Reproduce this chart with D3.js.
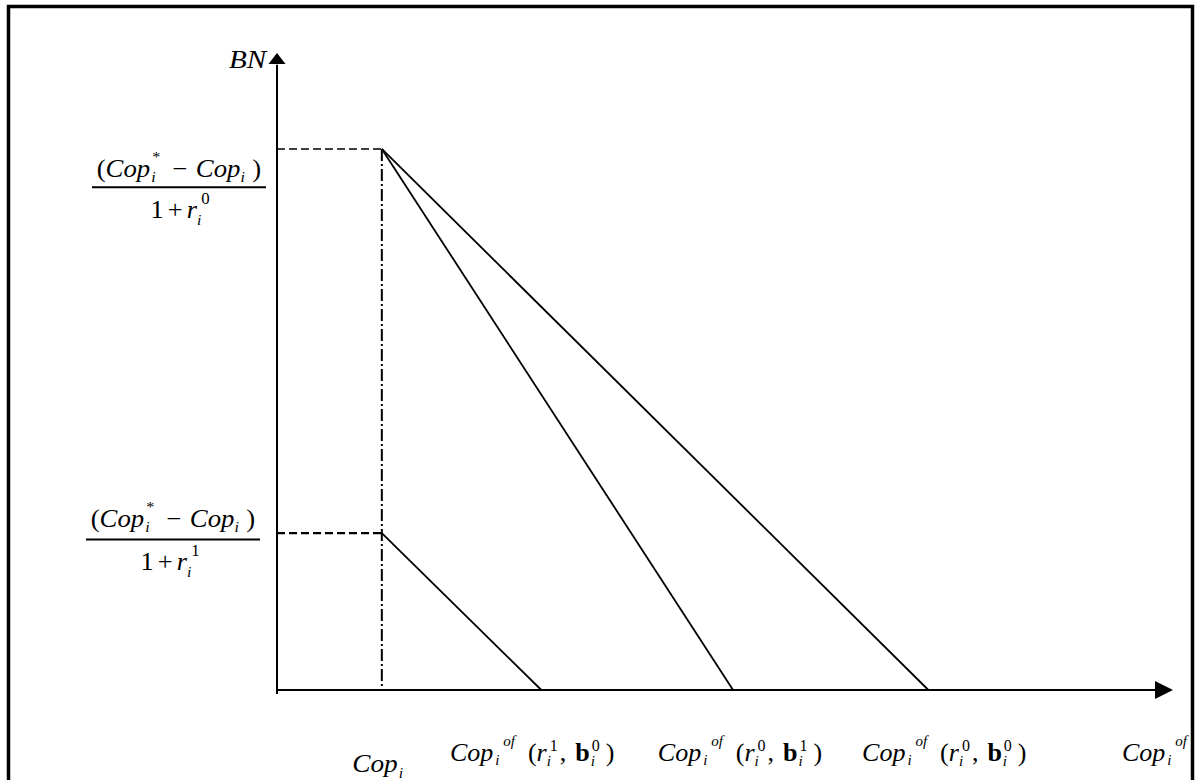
<!DOCTYPE html>
<html>
<head>
<meta charset="utf-8">
<script src="https://cdn.jsdelivr.net/npm/d3@7"></script>
<style>
  html, body { margin: 0; padding: 0; background: #fff; }
  svg { display: block; }
  text { font-family: "Liberation Serif", "Times New Roman", serif; fill: #000; }
</style>
</head>
<body>
<svg id="chart" width="1200" height="780"></svg>
<script>
// ---- data (abstract units) ----
const xDomain = [0, 100];
const yDomain = [0, 100];
const copI = 11.7;                         // Cop_i on x axis
const bnLevels = [84.8, 24.6];             // (Cop*-Cop)/(1+r0), (Cop*-Cop)/(1+r1)
const bnLevelNames = ["r0", "r1"];
const curveNames = ["r1_b0", "r0_b1", "r0_b0"];
const curveStartBN = [24.6, 84.8, 84.8];
const curveEndCop = [29.5, 50.9, 72.7];
const xLabelNames = ["Cop_i", "r1_b0", "r0_b1", "r0_b0", "max"];
const xLabelPos = [8.4, 19.3, 42.5, 65.3, 94.3];   // left edge of each label, x units
const yLabelPos = [78.8, 23.6];                     // fraction bar of each y label, y units
const yLabelSup = ["0", "1"];

const svg = d3.select("#chart");

const x = d3.scaleLinear().domain(xDomain).range([277, 1173]);
const y = d3.scaleLinear().domain(yDomain).range([690, 52]);

svg.append("defs").append("clipPath").attr("id", "clipIn")
  .append("rect").attr("x", 10).attr("y", 8).attr("width", 1181).attr("height", 780);

const root = svg.append("g").attr("clip-path", "url(#clipIn)");

// ---- math text helper ----
function T(s, o = {}) { return { kind: "t", s, it: o.it !== undefined ? o.it : true, b: !!o.b, l: o.l || 0, r: o.r || 0 }; }
function S(sub, sup, o = {}) {
  return { kind: "s", sub, sup, l: o.l || 0, r: o.r || 0,
    supDy: o.supDy !== undefined ? o.supDy : -12, subDy: o.subDy !== undefined ? o.subDy : 5,
    supDx: o.supDx || 0, subDx: o.subDx || 0, supIt: o.supIt !== undefined ? o.supIt : false,
    supSize: o.supSize };
}

function mathText(parent, tokens, px, py, anchor, fs, ss, sx) {
  sx = sx || 1;
  const g = parent.append("g");
  let cx = 0;
  const mk = (s, xx, yy, size, it, b) => {
    const t = g.append("text").attr("x", xx).attr("y", yy)
      .style("font-size", size + "px")
      .style("font-style", it ? "italic" : "normal")
      .style("font-weight", b ? "bold" : "normal")
      .text(s);
    return t.node().getComputedTextLength();
  };
  tokens.forEach(tk => {
    cx += tk.l;
    if (tk.kind === "t") {
      cx += mk(tk.s, cx, 0, fs, tk.it, tk.b);
    } else {
      let w1 = 0, w2 = 0;
      if (tk.sub) w1 = tk.subDx + mk(tk.sub, cx + tk.subDx, tk.subDy, ss, true, false);
      if (tk.sup) w2 = tk.supDx + mk(tk.sup, cx + tk.supDx, tk.supDy, tk.supSize || ss, tk.supIt, false);
      cx += Math.max(w1, w2);
    }
    cx += tk.r;
  });
  const ox = anchor === "middle" ? px - cx * sx / 2 : px;
  g.attr("transform", `translate(${ox},${py}) scale(${sx},1)`);
  return cx * sx;
}

// ---- y-level guides (dashed) ----
const dashW = [1.3, 2.2];
bnLevels.forEach((v, i) => {
  root.append("line")
    .attr("x1", x(0)).attr("x2", x(copI))
    .attr("y1", y(v)).attr("y2", y(v))
    .attr("stroke", "#000").attr("stroke-width", dashW[i])
    .attr("stroke-dasharray", "8,4");
});

// dash-dot vertical at Cop_i
root.append("line")
  .attr("x1", x(copI)).attr("x2", x(copI))
  .attr("y1", y(d3.max(bnLevels))).attr("y2", y(0))
  .attr("stroke", "#000").attr("stroke-width", 2)
  .attr("stroke-dasharray", "12,3,2,3");

// curves
const lineGen = d3.line().x(d => x(d[0])).y(d => y(d[1]));
curveNames.forEach((n, i) => {
  root.append("path")
    .datum([[copI, curveStartBN[i]], [curveEndCop[i], 0]])
    .attr("d", lineGen)
    .attr("fill", "none").attr("stroke", "#000").attr("stroke-width", 1.8);
});

// axes
root.append("line").attr("x1", x(0)).attr("x2", x(98)).attr("y1", y(0)).attr("y2", y(0))
  .attr("stroke", "#000").attr("stroke-width", 2);
root.append("line").attr("x1", x(0)).attr("x2", x(0)).attr("y1", y(0) + 4).attr("y2", y(98))
  .attr("stroke", "#000").attr("stroke-width", 2);
root.append("path")
  .attr("d", `M${x(100)},${y(0)} L${x(100) - 18},${y(0) - 9} L${x(100) - 18},${y(0) + 9} Z`)
  .attr("fill", "#000");
root.append("path")
  .attr("d", `M${x(0)},${y(100) + 1} L${x(0) - 8.5},${y(100) + 12} L${x(0) + 8.5},${y(100) + 12} Z`)
  .attr("fill", "#000");

// BN label
mathText(root, [T("B"), T("N")], 229, 68, "start", 26, 15, 1.12);

// y fraction labels
const fracCenters = [179, 173];
const fracHalf = [87, 87];
const numOffset = [-10, -12];
const denCenters = [180, 170];
yLabelPos.forEach((v, i) => {
  const yy = y(v);
  const cxp = fracCenters[i];
  const num = [
    T("(", { it: false }), T("Cop"), S("i", "*", { subDx: 1, supDx: 2, supDy: -15 }),
    T("−", { it: false, l: 11, r: 8 }), T("Cop"), S("i", null, { r: 7, subDy: 5 }), T(")", { it: false })
  ];
  const den = [
    T("1", { it: false }), T("+", { it: false, l: 4, r: 4 }), T("r"),
    S("i", yLabelSup[i], { supDy: -14, supDx: 4, subDx: 0, subDy: 7, supSize: 16 })
  ];
  mathText(root, num, cxp, yy + numOffset[i], "middle", 25, 15, 1.07);
  const w = fracHalf[i];
  root.append("line").attr("x1", cxp - w).attr("x2", cxp + w)
    .attr("y1", yy).attr("y2", yy)
    .attr("stroke", "#000").attr("stroke-width", 2);
  mathText(root, den, denCenters[i], yy + 31, "middle", 25, 15, 1.05);
});

// x labels
const rSup = { r1_b0: ["1", "0"], r0_b1: ["0", "1"], r0_b0: ["0", "0"] };
xLabelNames.forEach((n, i) => {
  const lx = x(xLabelPos[i]);
  if (n === "Cop_i") {
    mathText(root, [T("Cop"), S("i", null, { subDy: 6, l: 1 })], lx, 772, "start", 26, 15, 1.05);
  } else if (n === "max") {
    mathText(root, [T("Cop"), S("i", "of", { l: 2, supDy: -15, supDx: 8, subDy: 4, supIt: true })], lx, 761, "start", 26, 15, 1.0);
  } else {
    const [a, b] = rSup[n];
    mathText(root, [
      T("Cop"), S("i", "of", { l: 2, supDy: -15, supDx: 8, subDy: 4, supIt: true, r: 11 }),
      T("(", { it: false, l: 2 }), T("r"), S("i", a, { supDx: 3, supDy: -10, subDy: 5, subDx: 0, r: 2, supSize: 16 }),
      T(",", { it: false, r: 9 }),
      T("b", { it: false, b: true }), S("i", b, { supDx: 2, supDy: -10, subDy: 5, subDx: 1, r: 6, supSize: 16 }),
      T(")", { it: false })
    ], lx, 761, "start", 26, 15, 1.0);
  }
});

// border
svg.append("rect").attr("x", 8.5).attr("y", 6.5).attr("width", 1184).attr("height", 800)
  .attr("fill", "none").attr("stroke", "#000").attr("stroke-width", 3.5);
</script>
</body>
</html>
